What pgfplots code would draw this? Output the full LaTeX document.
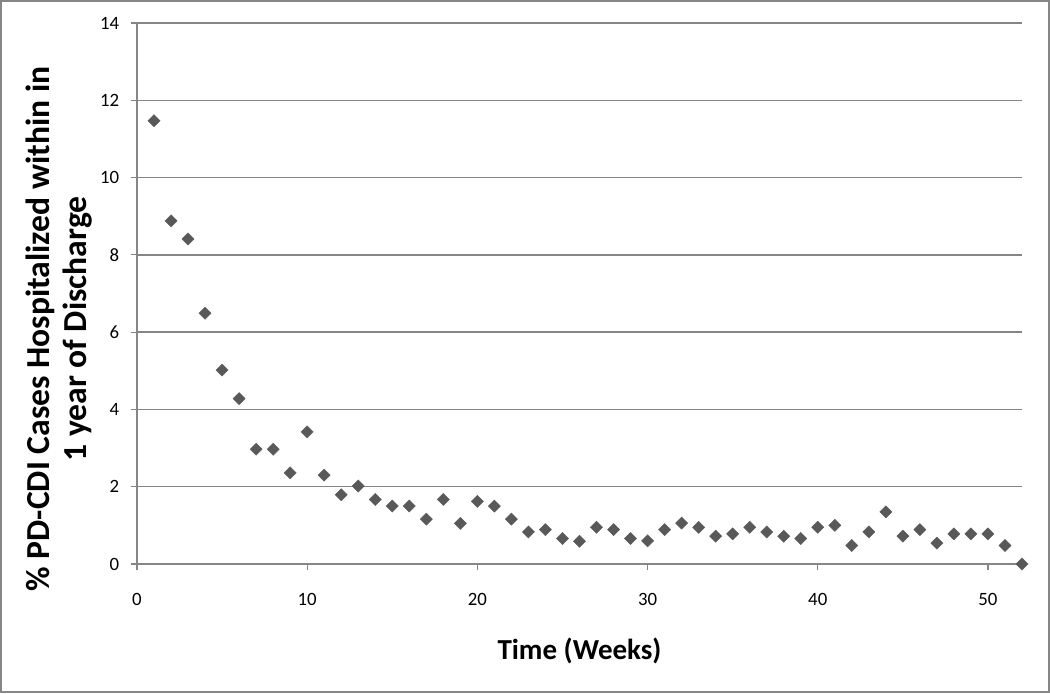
\documentclass[border=0pt]{standalone}
\usepackage{fontspec}
\setmainfont{Carlito}
\usepackage{pgfplots}
\pgfplotsset{compat=1.18}
\definecolor{gridgray}{RGB}{134,134,134}
\definecolor{markgray}{RGB}{89,89,89}
\begin{document}
\begin{tikzpicture}
\useasboundingbox (-68.5pt,-64.5pt) rectangle (456.5pt,282pt);
\begin{axis}[
  at={(0,0)}, anchor=origin,
  scale only axis,
  width=442.5pt, height=270.5pt,
  xmin=0, xmax=52, ymin=0, ymax=14,
  xtick={0,10,20,30,40,50},
  ytick={0,2,4,6,8,10,12,14},
  axis x line*=bottom, axis y line*=left,
  axis line style={gridgray, line width=0.7pt, -},
  ymajorgrids,
  major grid style={gridgray, line width=0.7pt},
  tick align=outside,
  major tick length=3.2pt,
  tick style={gridgray, line width=0.6pt},
  /pgf/number format/assume math mode=true,
  ticklabel style={font=\fontsize{9.4pt}{11pt}\selectfont, text=black},
  yticklabel style={anchor=east, inner sep=0pt, xshift=-5.5pt},
  xticklabel style={anchor=north, inner sep=0pt, yshift=-11pt},
  clip=false,
]
\addplot[only marks, mark=square*, mark size=2.15pt,
  mark options={rotate=45, fill=markgray, draw=markgray, line width=0.2pt}]
coordinates {
(1,11.47) (2,8.88) (3,8.41) (4,6.49) (5,5.02) (6,4.28) (7,2.97) (8,2.97)
(9,2.36) (10,3.42) (11,2.30) (12,1.79) (13,2.02) (14,1.67) (15,1.50) (16,1.50)
(17,1.16) (18,1.67) (19,1.05) (20,1.62) (21,1.50) (22,1.16) (23,0.83) (24,0.89)
(25,0.66) (26,0.59) (27,0.95) (28,0.89) (29,0.66) (30,0.60) (31,0.89) (32,1.06)
(33,0.95) (34,0.72) (35,0.78) (36,0.95) (37,0.83) (38,0.72) (39,0.66) (40,0.95)
(41,1.00) (42,0.48) (43,0.83) (44,1.35) (45,0.72) (46,0.89) (47,0.54) (48,0.78)
(49,0.78) (50,0.78) (51,0.48) (52,0)
};
\end{axis}
\node[rotate=90, anchor=base, inner sep=0pt, font=\bfseries\fontsize{16.8pt}{19pt}\selectfont]
  at (-43.5pt,117.5pt) {\% PD-CDI Cases Hospitalized within in};
\node[rotate=90, anchor=base, inner sep=0pt, font=\bfseries\fontsize{16.8pt}{19pt}\selectfont]
  at (-25pt,117.5pt) {1 year of Discharge};
\node[anchor=base, inner sep=0pt, font=\bfseries\fontsize{14.5pt}{17pt}\selectfont]
  at (221.25pt,-47.5pt) {Time (Weeks)};
\draw[gridgray, line width=1pt] (-68pt,-64pt) rectangle (456pt,281.5pt);
\end{tikzpicture}
\end{document}
